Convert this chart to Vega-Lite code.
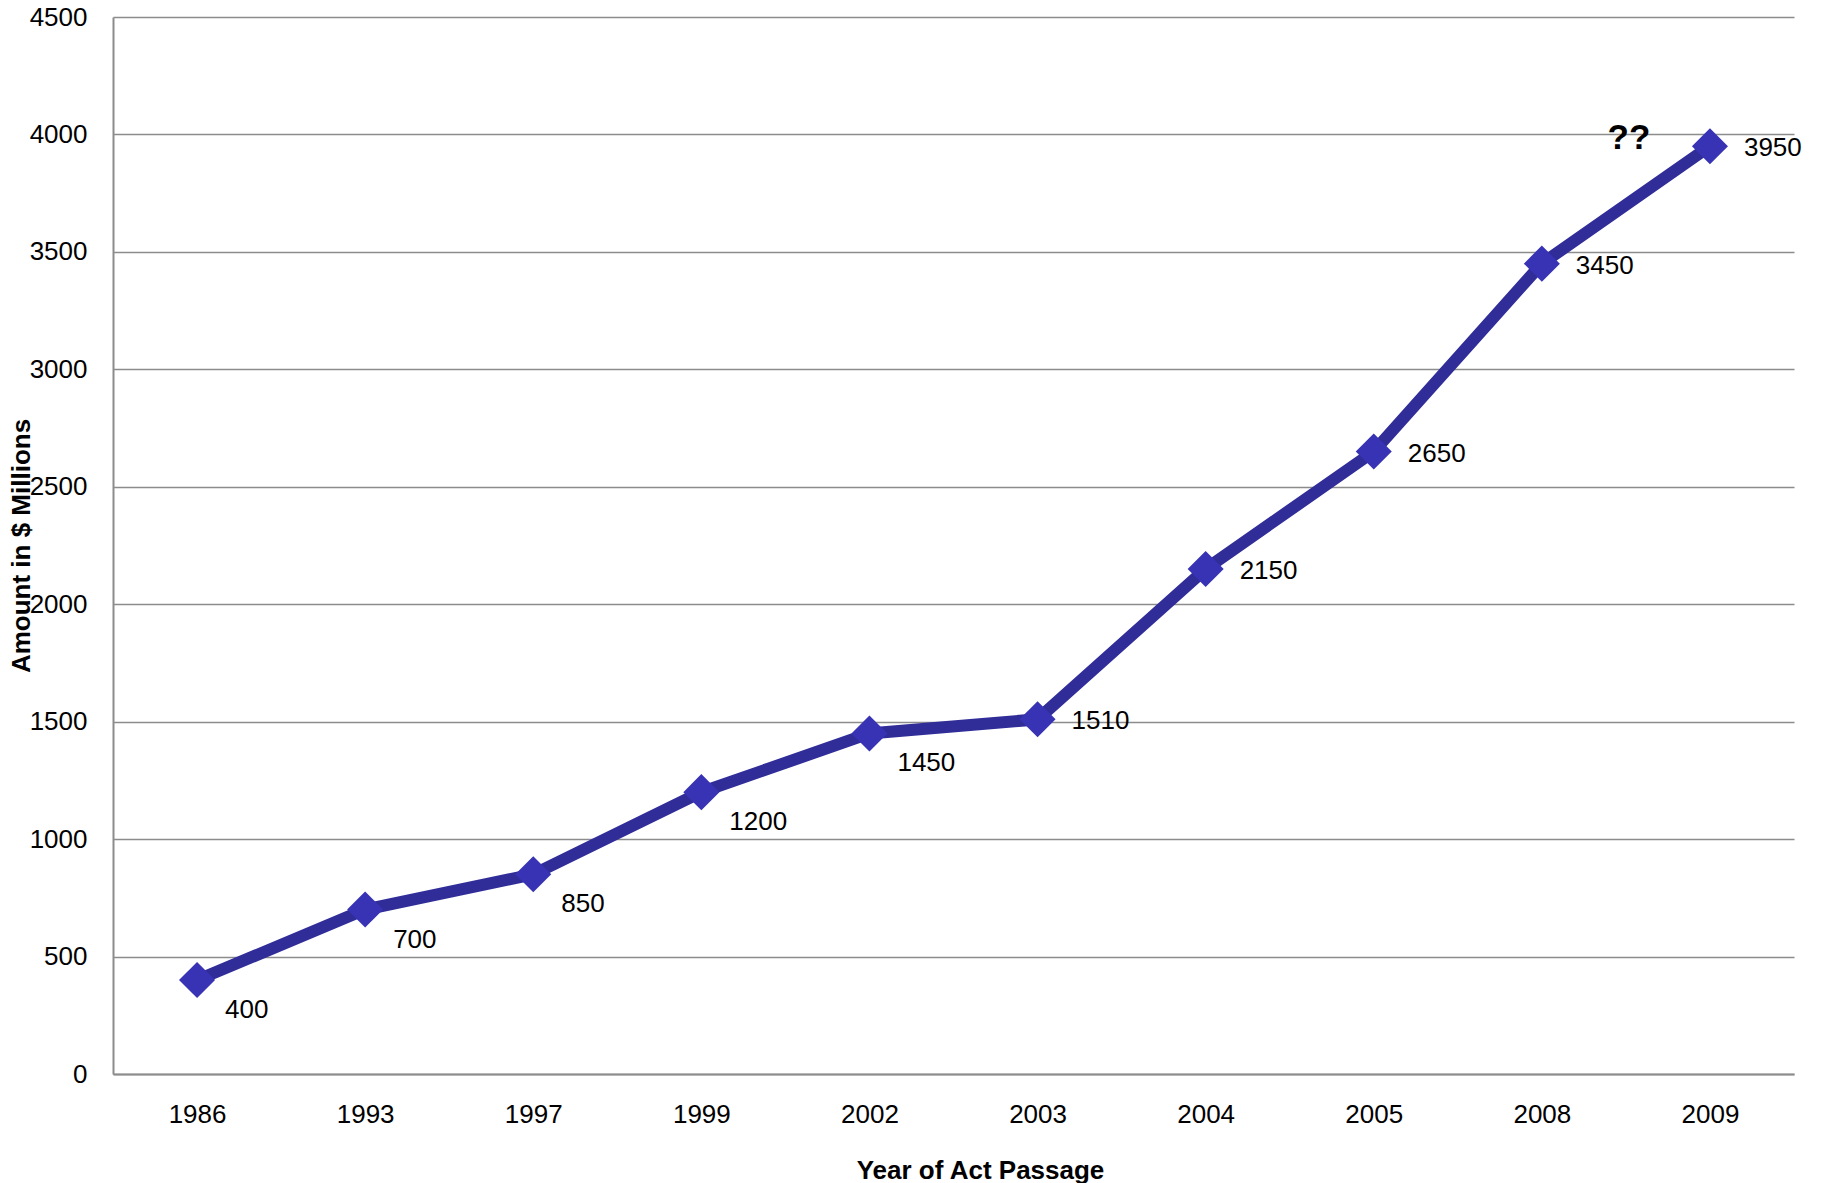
{
  "$schema": "https://vega.github.io/schema/vega-lite/v6.json",
  "autosize": "none",
  "width": 1681,
  "height": 1057,
  "padding": {"left": 113, "top": 17, "right": 29, "bottom": 109},
  "background": "white",
  "config": {
    "font": "Liberation Sans",
    "view": {"stroke": null},
    "axis": {
      "labelFont": "Liberation Sans",
      "titleFont": "Liberation Sans",
      "labelColor": "black",
      "titleColor": "black",
      "labelFontSize": 26,
      "titleFontSize": 26,
      "titleFontWeight": "bold",
      "domainColor": "#8c8c8c",
      "domainWidth": 2,
      "gridColor": "#8c8c8c",
      "gridWidth": 1.5,
      "gridOpacity": 1,
      "ticks": false
    }
  },
  "data": {
    "values": [
      {"year": "1986", "amount": 400},
      {"year": "1993", "amount": 700},
      {"year": "1997", "amount": 850},
      {"year": "1999", "amount": 1200},
      {"year": "2002", "amount": 1450},
      {"year": "2003", "amount": 1510},
      {"year": "2004", "amount": 2150},
      {"year": "2005", "amount": 2650},
      {"year": "2008", "amount": 3450},
      {"year": "2009", "amount": 3950}
    ]
  },
  "encoding": {
    "x": {
      "field": "year",
      "type": "ordinal",
      "sort": null,
      "scale": {"type": "point", "padding": 0.5},
      "axis": {
        "title": "Year of Act Passage",
        "labelAngle": 0,
        "labelPadding": 27,
        "titlePadding": 30,
        "titleX": 867,
        "titleAlign": "center",
        "grid": false
      }
    },
    "y": {
      "field": "amount",
      "type": "quantitative",
      "scale": {"domain": [0, 4500], "nice": false},
      "axis": {
        "title": "Amount in $ Millions",
        "values": [0, 500, 1000, 1500, 2000, 2500, 3000, 3500, 4000, 4500],
        "format": "d",
        "labelPadding": 26,
        "grid": true,
        "titleX": -92,
        "titleBaseline": "middle"
      }
    }
  },
  "layer": [
    {
      "mark": {"type": "line", "color": "#302d98", "strokeWidth": 12, "strokeJoin": "miter"}
    },
    {
      "mark": {"type": "point", "shape": "diamond", "filled": true, "size": 1300, "color": "#3733b4", "opacity": 1}
    },
    {
      "transform": [{"filter": "datum.amount < 1500"}],
      "mark": {"type": "text", "align": "left", "baseline": "middle", "dx": 28, "dy": 30, "fontSize": 26, "color": "black"},
      "encoding": {"text": {"field": "amount", "type": "quantitative", "format": "d"}}
    },
    {
      "transform": [{"filter": "datum.amount >= 1500"}],
      "mark": {"type": "text", "align": "left", "baseline": "middle", "dx": 34, "dy": 2, "fontSize": 26, "color": "black"},
      "encoding": {"text": {"field": "amount", "type": "quantitative", "format": "d"}}
    },
    {
      "data": {"values": [{"year": "2009", "amount": 4000, "note": "??"}]},
      "mark": {"type": "text", "align": "center", "baseline": "middle", "dx": -81, "dy": 4, "fontSize": 35, "fontWeight": "bold", "color": "black"},
      "encoding": {"text": {"field": "note"}}
    }
  ]
}
